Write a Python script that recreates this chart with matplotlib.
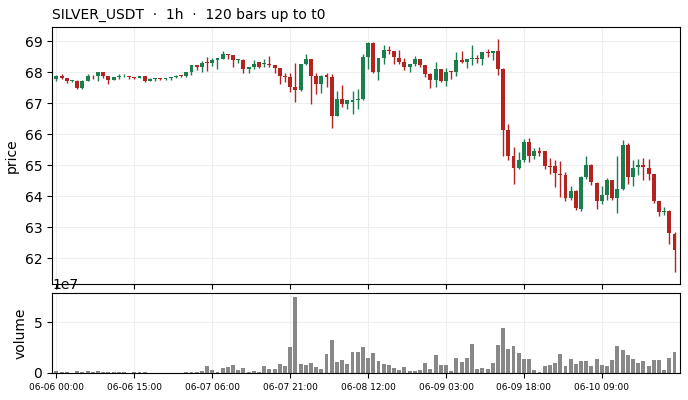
import matplotlib
matplotlib.use("Agg")
import matplotlib.pyplot as plt
import numpy as np
import pandas as pd

symbol = "SILVER_USDT"
times = pd.date_range("2026-06-06 00:00", periods=120, freq="h")

opens = [67.78, 67.88, 67.82, 67.72, 67.74, 67.50, 67.74, 67.90, 67.87, 68.00,
         67.90, 67.77, 67.84, 67.87, 67.88, 67.84, 67.82, 67.87, 67.74, 67.78,
         67.80, 67.79, 67.81, 67.84, 67.90, 67.88, 68.00, 68.23, 68.16, 68.34,
         68.32, 68.39, 68.45, 68.59, 68.55, 68.40, 68.39, 68.11, 68.16, 68.33,
         68.28, 68.27, 68.23, 68.13, 67.88, 67.84, 67.52, 67.42, 68.26, 68.42,
         67.88, 67.62, 67.92, 67.84, 66.59, 67.13, 66.97, 67.06, 67.10, 67.15,
         68.49, 68.95, 68.03, 68.47, 68.74, 68.68, 68.47, 68.33, 68.17, 68.27,
         68.42, 68.23, 67.96, 67.77, 68.10, 67.72, 68.04, 68.01, 68.39, 68.35,
         68.42, 68.47, 68.42, 68.66, 68.62, 68.68, 68.12, 66.13, 65.32, 64.91,
         65.18, 65.77, 65.30, 65.45, 65.45, 64.99, 64.97, 64.73, 64.68, 63.94,
         64.19, 63.60, 64.62, 65.00, 64.44, 63.85, 64.06, 64.52, 63.96, 64.25,
         65.65, 64.62, 64.95, 65.00, 64.92, 64.71, 63.84, 63.49, 63.53, 62.80]
highs = [67.92, 67.95, 67.83, 67.76, 67.75, 67.75, 67.94, 67.93, 68.01, 68.01,
         67.90, 67.85, 67.96, 67.96, 67.89, 67.86, 67.89, 67.88, 67.81, 67.83,
         67.82, 67.83, 67.85, 67.91, 67.91, 68.01, 68.24, 68.25, 68.38, 68.50,
         68.47, 68.47, 68.68, 68.60, 68.56, 68.45, 68.45, 68.17, 68.39, 68.35,
         68.44, 68.52, 68.25, 68.14, 67.99, 67.99, 68.31, 68.27, 68.58, 68.43,
         67.99, 67.91, 67.98, 67.96, 67.39, 67.58, 67.11, 67.39, 67.47, 68.58,
         68.97, 68.97, 68.48, 68.90, 68.84, 68.70, 68.71, 68.47, 68.28, 68.52,
         68.44, 68.24, 67.97, 68.33, 68.11, 68.15, 68.05, 68.65, 68.69, 68.43,
         68.89, 68.57, 68.67, 68.75, 68.70, 69.09, 68.14, 66.35, 65.59, 65.43,
         65.85, 65.90, 65.55, 65.58, 65.47, 65.23, 65.16, 65.13, 64.80, 64.35,
         64.20, 64.67, 65.32, 65.03, 64.46, 64.35, 64.58, 64.53, 65.29, 65.81,
         65.71, 65.16, 65.20, 65.24, 65.20, 64.72, 63.86, 63.66, 63.55, 62.85]
lows = [67.74, 67.79, 67.67, 67.70, 67.45, 67.45, 67.73, 67.80, 67.74, 67.82,
        67.62, 67.76, 67.79, 67.86, 67.79, 67.80, 67.81, 67.69, 67.73, 67.74,
        67.77, 67.75, 67.77, 67.82, 67.86, 67.86, 67.92, 68.08, 68.02, 68.06,
        68.20, 68.10, 68.42, 68.42, 68.16, 68.30, 67.98, 67.99, 68.12, 68.15,
        68.17, 68.17, 67.98, 67.63, 67.69, 67.37, 67.04, 67.40, 68.25, 66.97,
        67.31, 67.34, 67.53, 66.22, 66.58, 66.88, 66.83, 66.65, 66.83, 67.10,
        68.12, 67.98, 67.76, 68.28, 68.58, 68.28, 68.28, 68.09, 68.01, 68.20,
        68.17, 67.85, 67.51, 67.53, 67.69, 67.57, 67.80, 67.90, 68.30, 68.15,
        68.23, 68.31, 68.23, 68.50, 68.40, 67.93, 65.32, 65.18, 64.41, 64.90,
        65.10, 65.10, 65.20, 65.29, 64.87, 64.71, 64.29, 63.97, 63.85, 63.90,
        63.56, 63.52, 64.57, 64.37, 63.60, 63.77, 63.90, 63.87, 63.46, 64.20,
        64.41, 64.35, 64.70, 64.53, 64.53, 63.80, 63.36, 63.40, 62.45, 61.55]
closes = [67.88, 67.82, 67.72, 67.74, 67.50, 67.74, 67.90, 67.87, 68.00, 67.90,
          67.77, 67.84, 67.87, 67.88, 67.84, 67.82, 67.87, 67.74, 67.80, 67.80,
          67.79, 67.81, 67.84, 67.90, 67.88, 68.00, 68.23, 68.16, 68.32, 68.30,
          68.39, 68.46, 68.59, 68.56, 68.40, 68.42, 68.11, 68.16, 68.26, 68.17,
          68.31, 68.24, 68.14, 67.88, 67.85, 67.53, 67.43, 68.26, 68.42, 67.88,
          67.62, 67.90, 67.85, 66.59, 67.13, 66.97, 67.10, 67.10, 67.15, 68.49,
          68.95, 68.03, 68.47, 68.74, 68.68, 68.49, 68.35, 68.17, 68.27, 68.42,
          68.23, 67.96, 67.77, 68.10, 67.72, 68.03, 68.01, 68.39, 68.35, 68.42,
          68.46, 68.44, 68.66, 68.62, 68.69, 68.12, 66.13, 65.32, 64.91, 65.18,
          65.77, 65.30, 65.45, 65.40, 64.97, 64.95, 64.75, 64.69, 63.94, 64.19,
          63.61, 64.62, 65.00, 64.46, 63.85, 64.06, 64.52, 63.96, 64.25, 65.65,
          64.62, 64.92, 65.00, 64.95, 64.73, 63.85, 63.49, 63.53, 62.82, 62.28]
# volume in units of 1e7
volumes = [0.23, 0.13, 0.13, 0.02, 0.23, 0.13, 0.23, 0.13, 0.23, 0.13,
           0.13, 0.13, 0.13, 0.13, 0.02, 0.13, 0.13, 0.13, 0.02, 0.02,
           0.02, 0.02, 0.02, 0.02, 0.02, 0.10, 0.10, 0.10, 0.23, 0.70,
           0.30, 0.10, 0.50, 0.60, 0.80, 0.33, 0.50, 0.13, 0.23, 0.13,
           0.70, 0.42, 0.42, 0.87, 0.70, 2.55, 7.48, 0.87, 0.80, 0.97,
           0.60, 0.42, 1.84, 3.23, 1.06, 1.29, 0.90, 2.06, 2.06, 2.55,
           1.48, 1.97, 1.19, 0.90, 0.80, 0.52, 0.32, 0.61, 0.23, 0.23,
           0.32, 1.00, 0.42, 1.77, 0.80, 0.80, 0.23, 1.48, 1.10, 1.48,
           2.84, 0.42, 0.52, 0.42, 1.00, 2.74, 4.39, 2.35, 2.65, 1.97,
           1.39, 1.39, 0.32, 0.13, 0.71, 0.80, 1.00, 1.87, 0.71, 1.39,
           0.90, 1.19, 1.19, 0.71, 1.39, 0.80, 0.71, 1.29, 2.65, 2.26,
           1.77, 1.39, 1.00, 1.19, 0.71, 1.29, 1.29, 0.32, 1.48, 2.06]

o = np.array(opens)
h = np.array(highs)
l = np.array(lows)
c = np.array(closes)
v = np.array(volumes) * 1e7
x = np.arange(len(c))

up_col = '#1b7f4d'
dn_col = '#b3231f'
cols = np.where(c >= o, up_col, dn_col)

fig = plt.figure(figsize=(6.88, 4.0), dpi=100)
ax = fig.add_axes([0.0756, 0.29, 0.9124, 0.6425])
axv = fig.add_axes([0.0756, 0.0675, 0.9124, 0.2], sharex=ax)

ax.vlines(x, l, h, colors=cols, linewidth=1)
body = np.maximum(np.abs(c - o), 0.03)
ax.bar(x, body, bottom=np.minimum(o, c), width=0.75, color=cols, linewidth=0)
ax.set_ylabel('price')
ax.grid(True, color='#eeeeee', linewidth=0.8)
ax.set_axisbelow(True)
ax.tick_params(labelbottom=False)
ax.set_title(f'{symbol}  ·  1h  ·  {len(c)} bars up to t0', loc='left', fontsize=10)

axv.bar(x, v, width=0.75, color='#888888')
axv.set_ylabel('volume')
axv.grid(True, color='#eeeeee', linewidth=0.8)
axv.set_axisbelow(True)

ticks = x[::15]
axv.set_xticks(ticks)
axv.set_xticklabels([times[i].strftime('%m-%d %H:%M') for i in ticks], fontsize=6.5)
ax.set_xlim(-0.85, 120.0)

fig.savefig('out.png', dpi=100)
